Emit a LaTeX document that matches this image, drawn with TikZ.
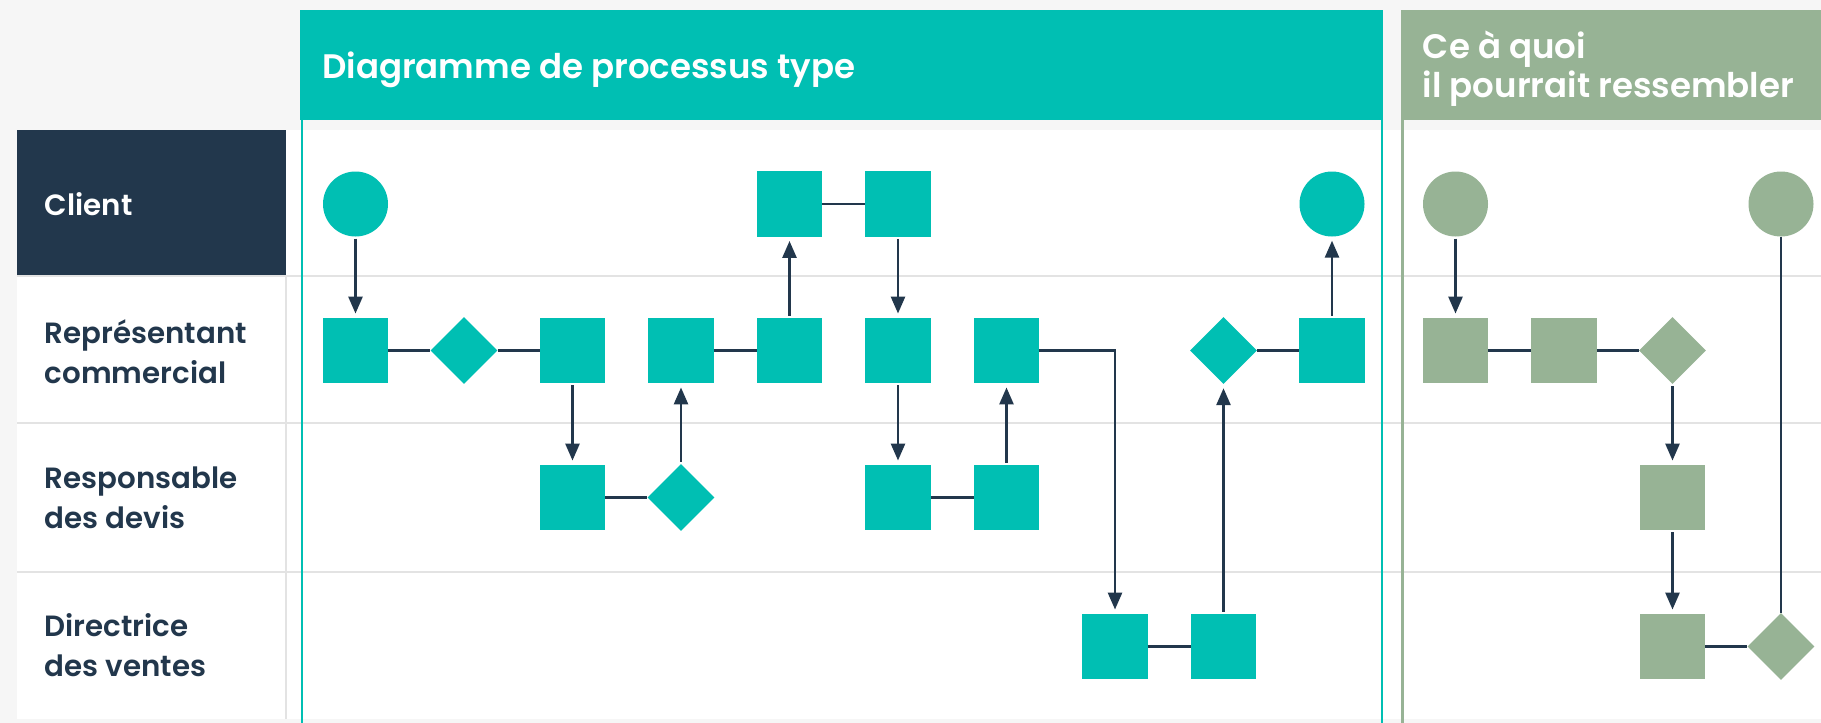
\documentclass[tikz,border=0pt]{standalone}
\usepackage{fontspec}
\setmainfont{Poppins}[BoldFont={Poppins SemiBold}]
\usetikzlibrary{arrows.meta,shapes.geometric}
\definecolor{tealc}{HTML}{00BFB3}
\definecolor{sage}{HTML}{97B395}
\definecolor{navy}{HTML}{22374C}
\definecolor{paper}{HTML}{F6F6F6}
\definecolor{rulec}{HTML}{E3E3E3}
\tikzset{
  sq/.style={rectangle, minimum size=65.5pt, inner sep=0pt},
  rnd/.style={circle, minimum size=65pt, inner sep=0pt},
  dia/.style={diamond, aspect=1, minimum width=67pt, minimum height=67pt, inner sep=0pt},
  link/.style={draw=navy, line width=2.7pt},
  flow/.style={link, -{Triangle[length=17pt,width=14pt]}, shorten >=4pt, shorten <=2pt},
  lanelabel/.style={anchor=base west, align=left, inner sep=0pt, font=\fontsize{29.3}{40}\selectfont\bfseries},
  headtext/.style={anchor=base west, align=left, inner sep=0pt, text=white, font=\fontsize{34}{39.7}\selectfont\bfseries},
}
\begin{document}
\begin{tikzpicture}[x=1pt,y=-1pt]
\useasboundingbox (0,0) rectangle (1821,723);
% page and lanes
\fill[paper] (0,0) rectangle (1821,723);
\fill[white] (17,130) rectangle (1821,719);
\fill[navy] (17,130) rectangle (286,276);
\foreach \yy in {276,423,572} \draw[rulec, line width=2pt] (17,\yy) -- (1821,\yy);
\draw[rulec, line width=2pt] (286,276) -- (286,719);
% lane labels (anchored at the baseline of their last line)
\node[lanelabel, text=white] (lc) at (44.6,215) {Client};
\node[lanelabel, text=navy] (lr) at (44.6,383) {Représentant\\commercial};
\node[lanelabel, text=navy] (lq) at (44.6,528.3) {Responsable\\des devis};
\node[lanelabel, text=navy] (ld) at (44.6,676) {Directrice\\des ventes};
% column headers
\fill[tealc] (300,10) rectangle (1383,120);
\fill[sage] (1401,10) rectangle (1821,120);
\node[headtext] (ht) at (322,78) {Diagramme de processus type};
\node[headtext] (hs) at (1422.7,97.7) {Ce à quoi\\il pourrait ressembler};
\draw[tealc, line width=2.8pt] (302,120) -- (302,723);
\draw[tealc, line width=2.8pt] (1382,120) -- (1382,723);
\draw[sage, line width=2.8pt] (1402.5,120) -- (1402.5,723);
% typical process
\node[rnd, fill=tealc] (c0) at (355.5,204) {};
\node[sq, fill=tealc] (c4) at (789.5,204) {};
\node[sq, fill=tealc] (c5) at (898,204) {};
\node[rnd, fill=tealc] (c9) at (1332,204) {};
\node[sq, fill=tealc] (r0) at (355.5,350.5) {};
\node[dia, fill=tealc] (r1) at (464,350.5) {};
\node[sq, fill=tealc] (r2) at (572.5,350.5) {};
\node[sq, fill=tealc] (r3) at (681,350.5) {};
\node[sq, fill=tealc] (r4) at (789.5,350.5) {};
\node[sq, fill=tealc] (r5) at (898,350.5) {};
\node[sq, fill=tealc] (r6) at (1006.5,350.5) {};
\node[dia, fill=tealc] (r8) at (1223.5,350.5) {};
\node[sq, fill=tealc] (r9) at (1332,350.5) {};
\node[sq, fill=tealc] (q2) at (572.5,497.5) {};
\node[dia, fill=tealc] (q3) at (681,497.5) {};
\node[sq, fill=tealc] (q5) at (898,497.5) {};
\node[sq, fill=tealc] (q6) at (1006.5,497.5) {};
\node[sq, fill=tealc] (d7) at (1115,646.5) {};
\node[sq, fill=tealc] (d8) at (1223.5,646.5) {};
\draw[link] (c4) -- (c5);
\draw[link] (r0) -- (r1);
\draw[link] (r1) -- (r2);
\draw[link] (r3) -- (r4);
\draw[link] (r8) -- (r9);
\draw[link] (q2) -- (q3);
\draw[link] (q5) -- (q6);
\draw[link] (d7) -- (d8);
\draw[flow] (c0) -- (r0);
\draw[flow] (r2) -- (q2);
\draw[flow] (q3) -- (r3);
\draw[flow] (r4) -- (c4);
\draw[flow] (c5) -- (r5);
\draw[flow] (r5) -- (q5);
\draw[flow] (q6) -- (r6);
\draw[flow, shorten <=0pt] (r6.east) -| (d7.north);
\draw[flow] (d8) -- (r8);
\draw[flow] (r9) -- (c9);
% possible simplified process
\node[rnd, fill=sage] (gc0) at (1455.5,204) {};
\node[rnd, fill=sage] (gc3) at (1781,204) {};
\node[sq, fill=sage] (gr0) at (1455.5,350.5) {};
\node[sq, fill=sage] (gr1) at (1564,350.5) {};
\node[dia, fill=sage] (gr2) at (1672.5,350.5) {};
\node[sq, fill=sage] (gq2) at (1672.5,497.5) {};
\node[sq, fill=sage] (gd2) at (1672.5,646.5) {};
\node[dia, fill=sage] (gd3) at (1781,646.5) {};
\draw[link] (gr0) -- (gr1);
\draw[link] (gr1) -- (gr2);
\draw[link] (gd2) -- (gd3);
\draw[link] (gc3) -- (gd3);
\draw[flow] (gc0) -- (gr0);
\draw[flow] (gr2) -- (gq2);
\draw[flow] (gq2) -- (gd2);
\end{tikzpicture}
\end{document}
